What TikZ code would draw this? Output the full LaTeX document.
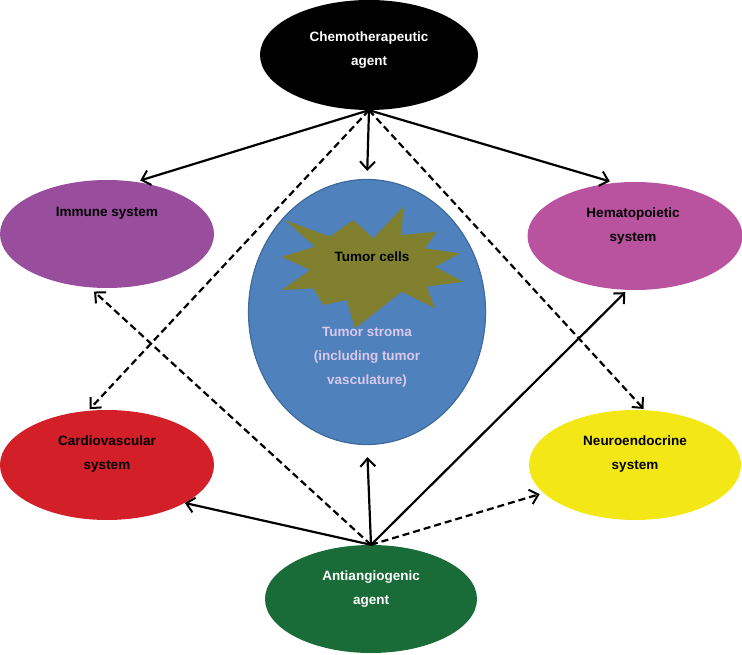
\documentclass[tikz,border=0pt]{standalone}
\usepackage{fontspec}
\setmainfont{Liberation Sans}
\usetikzlibrary{shapes.geometric,arrows.meta}
\definecolor{cimmune}{HTML}{984E9D}
\definecolor{chemato}{HTML}{B9529F}
\definecolor{cblue}{HTML}{4F81BD}
\definecolor{cblueedge}{HTML}{3D6A9B}
\definecolor{colive}{HTML}{80802F}
\definecolor{cred}{HTML}{D21F28}
\definecolor{cyellow}{HTML}{F3E816}
\definecolor{cgreen}{HTML}{196B37}
\definecolor{cstroma}{HTML}{D8C8EA}
\tikzset{
  ell/.style={ellipse, draw=none, inner sep=0pt},
  lbl/.style={align=center, font=\bfseries\fontsize{13.5}{24}\selectfont, inner sep=0pt},
  arr/.style={line width=2.2pt, -{Straight Barb[length=8pt,width=15pt,line width=2pt]}},
  darr/.style={arr, dash pattern=on 7pt off 4pt},
}
\begin{document}
\begin{tikzpicture}[x=1pt,y=-1pt]
\useasboundingbox (0,0) rectangle (742,655);
% ellipses
\node[ell, fill=black, minimum width=218pt, minimum height=110pt] (chemo) at (369,55) {};
\node[ell, fill=cimmune, minimum width=214pt, minimum height=108pt] (immune) at (107,234) {};
\node[ell, fill=chemato, minimum width=215pt, minimum height=108pt] (hemato) at (635,236) {};
\node[ell, fill=cblue, draw=cblueedge, line width=1.2pt, minimum width=237pt, minimum height=265pt] (tumor) at (367,312) {};
\node[ell, fill=cred, minimum width=214pt, minimum height=110pt] (cardio) at (107,465) {};
\node[ell, fill=cyellow, minimum width=212pt, minimum height=110pt] (neuro) at (635,465) {};
\node[ell, fill=cgreen, minimum width=212pt, minimum height=108pt] (anti) at (371,599) {};
% starburst (tumor cells)
\fill[colive] (285.0,220.0) -- (330.0,236.7) -- (353.3,220.0) -- (373.3,238.3) -- (403.3,206.7) -- (401.7,235.0) -- (436.7,231.7) -- (425.0,248.3) -- (460.0,253.3) -- (435.0,266.7) -- (463.3,281.7) -- (426.7,286.7) -- (435.0,308.3) -- (401.7,291.7) -- (355.0,328.3) -- (346.7,300.0) -- (323.3,305.0) -- (313.3,288.3) -- (281.7,290.0) -- (310.0,270.0) -- (281.7,256.7) -- (315.0,246.7) -- cycle;
% texts
\node[lbl, text=white] (chemot) at (369,50) {Chemotherapeutic\\agent};
\node[lbl] (immunet) at (107,213) {Immune system};
\node[lbl] (hematot) at (633,226.5) {Hematopoietic\\system};
\node[lbl] (cellst) at (372,257) {Tumor cells};
\node[lbl, text=cstroma] (stromat) at (367,357) {Tumor stroma\\(including tumor\\vasculature)};
\node[lbl] (cardiot) at (107,454.5) {Cardiovascular\\system};
\node[lbl] (neurot) at (635,454.5) {Neuroendocrine\\system};
\node[lbl, text=white] (antit) at (371,589) {Antiangiogenic\\agent};
% arrows from chemotherapeutic agent
\draw[arr, shorten >=4.5pt] (chemo.south) -- (immune.61);
\draw[arr, shorten >=5pt] (chemo.south) -- (hemato.111);
\draw[arr, shorten >=8pt] (chemo.south) -- (tumor.north);
\draw[darr, shorten >=2pt] (chemo.south) -- (cardio.109);
\draw[darr, shorten >=1.5pt] (chemo.south) -- (neuro.80);
% arrows from antiangiogenic agent
\draw[arr] (anti.north) -- (cardio.-26);
\draw[arr, shorten >=12pt] (anti.north) -- (tumor.south);
\draw[arr, shorten >=3pt] (anti.north) -- (hemato.-98);
\draw[darr, shorten >=4pt] (anti.north) -- (neuro.-163);
\draw[darr, shorten >=6pt] (anti.north) -- (immune.-108);
\end{tikzpicture}
\end{document}
